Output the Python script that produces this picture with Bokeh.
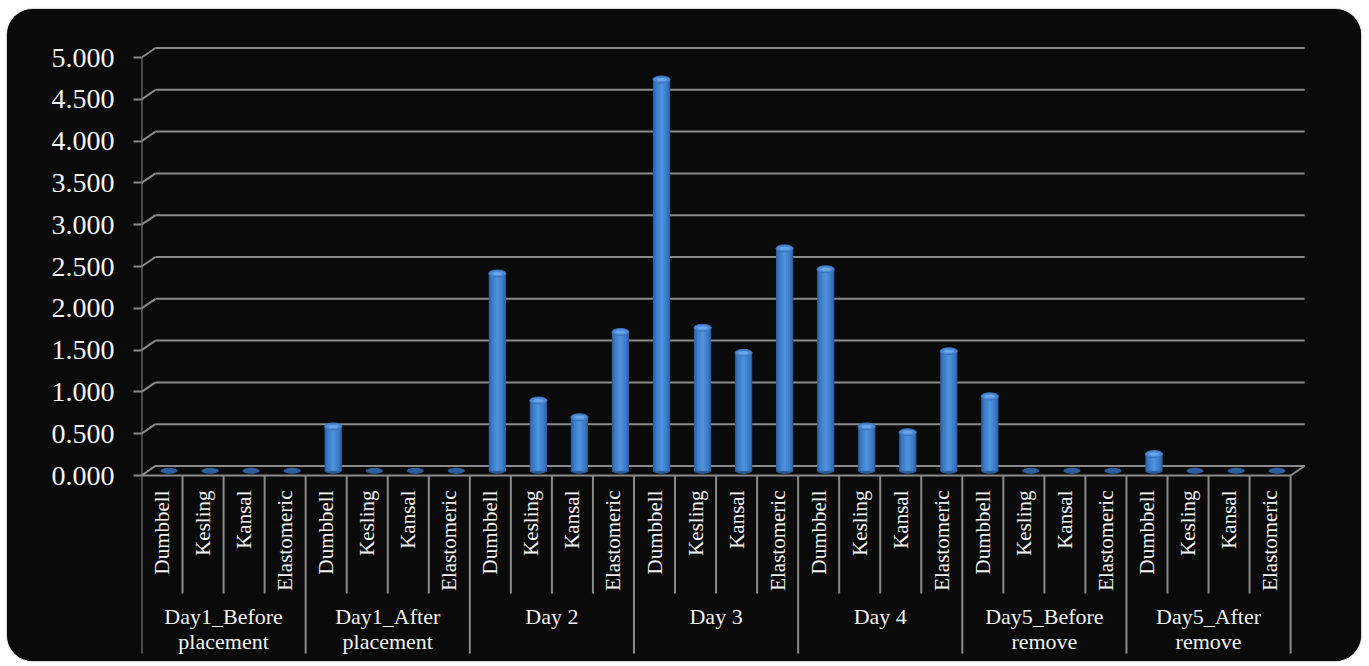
import numpy as np
from bokeh.plotting import figure
from bokeh.models import Range1d, FixedTicker, NumeralTickFormatter, ColumnDataSource
from bokeh.core.properties import value
from bokeh.embed import file_html
from bokeh.resources import INLINE

# ---------------- data ----------------
groups = ["Day1_Before\nplacement", "Day1_After\nplacement", "Day 2", "Day 3",
          "Day 4", "Day5_Before\nremove", "Day5_After\nremove"]
methods = ["Dumbbell", "Kesling", "Kansal", "Elastomeric"]
dumbbell = [0.0, 0.53, 2.36, 4.68, 2.41, 0.89, 0.20]
kesling = [0.0, 0.0, 0.84, 1.71, 0.53, 0.0, 0.0]
kansal = [0.0, 0.0, 0.64, 1.41, 0.46, 0.0, 0.0]
elastomeric = [0.0, 0.0, 1.66, 2.66, 1.43, 0.0, 0.0]
y_ticks = [0.0, 0.5, 1.0, 1.5, 2.0, 2.5, 3.0, 3.5, 4.0, 4.5, 5.0]

# ---------------- layout (pixels) ----------------
W, H = 1354, 652
px_per_x = 41.04
px_per_y = 83.6
border_left, border_right, border_top, border_bottom = 134, 49, 31, 5
frame_w = W - border_left - border_right
frame_h = H - border_top - border_bottom
zero_px_from_top = 475 - 9 - border_top   # zero line inside frame
x_end = frame_w / px_per_x
y_start = -(frame_h - zero_px_from_top) / px_per_y
y_end = zero_px_from_top / px_per_y

n_cat = len(groups) * len(methods)
dx = 14 / px_per_x     # depth offset (x)
dy = 9.5 / px_per_y    # depth offset (y)
GRID = "#8a8a8a"
BG = "#0a0a0a"

series = [dumbbell, kesling, kansal, elastomeric]
vals = np.array([[series[m][g] for m in range(len(methods))] for g in range(len(groups))]).ravel()
cat_x = np.arange(n_cat) + 0.5
cat_names = [m for g in groups for m in methods]

p = figure(width=W, height=H, output_backend="svg", toolbar_location=None,
           x_range=Range1d(0, x_end), y_range=Range1d(y_start, y_end),
           min_border_left=border_left, min_border_right=border_right,
           min_border_top=border_top, min_border_bottom=border_bottom,
           background_fill_color=BG, border_fill_color=BG,
           outline_line_color=None)
p.outline_line_alpha = 0
p.styles = {"margin-left": "7px", "margin-top": "9px", "border-radius": "26px",
            "overflow": "hidden", "box-shadow": "0 0 2px #777",
            "background-color": BG}
p.xaxis.visible = False
p.xgrid.visible = False
p.ygrid.visible = False

ya = p.yaxis[0]
ya.ticker = FixedTicker(ticks=y_ticks, minor_ticks=[])
ya.formatter = NumeralTickFormatter(format="0.000")
ya.axis_line_color = None
ya.major_tick_line_color = GRID
ya.major_tick_line_width = 2
ya.major_tick_out = 8
ya.major_tick_in = 0
ya.minor_tick_line_color = None
ya.major_label_standoff = 19
ya.major_label_text_font = "Liberation Serif"
ya.major_label_text_font_size = "28px"
ya.major_label_text_color = "#f2f2f2"

# gridlines at the back wall, with the diagonal from the axis
t = np.array(y_ticks)
p.segment(x0=np.zeros_like(t), y0=t, x1=np.full_like(t, dx), y1=t + dy, line_color=GRID, line_width=2)
p.segment(x0=np.full_like(t, dx), y0=t + dy, x1=np.full_like(t, n_cat + dx), y1=t + dy,
          line_color=GRID, line_width=2)
# floor outline
p.patch(x=[0, n_cat, n_cat + dx, dx], y=[0, 0, dy, dy], fill_color=BG,
        line_color=GRID, line_width=2)
# value axis line
p.segment(x0=[0], y0=[0], x1=[0], y1=[max(y_ticks)], line_color=GRID, line_width=2)

# separators below the floor
cat_sep = np.arange(n_cat + 1)
is_group = (cat_sep % len(methods)) == 0
sep_low = np.where(is_group, -178 / px_per_y, -118 / px_per_y)
p.segment(x0=cat_sep, y0=np.zeros(n_cat + 1), x1=cat_sep, y1=sep_low, line_color=GRID, line_width=2)

# cylinders
bx = cat_x + dx / 2
base = dy / 2
src = ColumnDataSource(dict(x=bx, top=vals + base, bottom=np.full(n_cat, base)))
pos = vals > 0
src_pos = ColumnDataSource(dict(x=bx[pos], top=vals[pos] + base, bottom=np.full(pos.sum(), base)))
p.ellipse(x="x", y="bottom", width=0.42, height=6, height_units="screen", source=src,
          fill_color="#2d5f9f", line_color=None)
for w, c in [(0.42, "#2c5d9c"), (0.36, "#3572bd"), (0.27, "#3e7eca"), (0.16, "#478ad4"), (0.07, "#4e91da")]:
    p.vbar(x="x", top="top", bottom="bottom", width=w, source=src_pos, fill_color=c, line_color=None)
p.ellipse(x="x", y="top", width=0.42, height=7, height_units="screen", source=src_pos,
          fill_color="#4d8bd6", line_color="#3a72bb", line_width=1)
p.ellipse(x="x", y="top", width=0.24, height=3, height_units="screen", source=src_pos,
          fill_color="#6aa6ea", line_color=None)

# category labels (vertical)
p.text(x=cat_x, y=np.full(n_cat, -15 / px_per_y), text=cat_names, angle=np.pi / 2,
       text_align="right", text_baseline="middle", text_font=value("Liberation Serif"),
       text_font_size="21px", text_color="#f2f2f2")
# group labels
gx = np.arange(len(groups)) * len(methods) + len(methods) / 2
p.text(x=gx, y=np.full(len(groups), -128 / px_per_y), text=groups,
       text_align="center", text_baseline="top", text_font=value("Liberation Serif"),
       text_font_size="22px", text_color="#f2f2f2", text_line_height=1.02)

open("out.html", "w").write(file_html(p, INLINE))
